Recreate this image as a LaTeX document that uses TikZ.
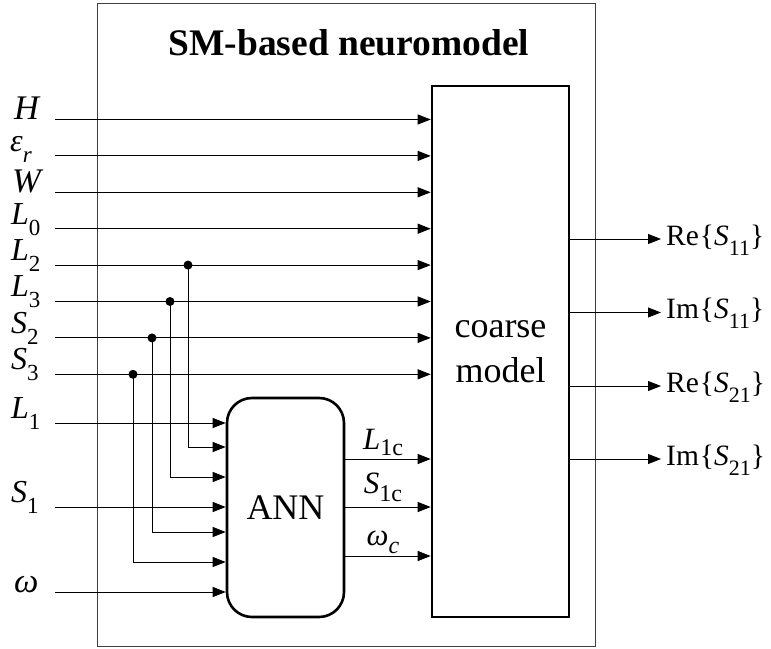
\documentclass[tikz,border=0pt]{standalone}
\usepackage{fontspec}
\setmainfont{Liberation Serif}
\usetikzlibrary{arrows.meta}

% lowered index: size, drop (pt), text
\newcommand{\subidx}[3]{\raisebox{-#2pt}{\fontsize{#1}{#1}\selectfont #3}}

\begin{document}
\begin{tikzpicture}[x=1pt,y=-1pt,
  wire/.style={line width=0.9pt},
  feed/.style={wire,-{Triangle[length=13pt,width=10pt]}},
  block/.style={draw,line width=2.6pt,inner sep=0pt},
  frame/.style={draw,line width=0.9pt,black!75,inner sep=0pt},
  junction/.style={circle,fill,inner sep=0pt,minimum size=9pt},
  inlabel/.style={anchor=base west,inner sep=0pt,font=\fontsize{32}{34}\selectfont},
  inplain/.style={anchor=base west,inner sep=0pt,font=\fontsize{34.5}{36}\selectfont},
  midlabel/.style={anchor=base,inner sep=0pt,font=\fontsize{31}{34}\selectfont},
  outlabel/.style={anchor=base west,inner sep=0pt,font=\fontsize{29.5}{32}\selectfont}]
\useasboundingbox (0,0) rectangle (771,648);

% enclosing frame and title
\node[frame,minimum width=498pt,minimum height=643pt] (frame) at (346,324.5) {};
\node[anchor=base,inner sep=0pt,font=\fontsize{37.5}{40}\selectfont\bfseries] (title) at (349,55) {SM-based neuromodel};

% blocks
\node[block,minimum width=137pt,minimum height=531pt,align=center,
      font=\fontsize{36}{45}\selectfont] (coarse) at (500.5,351.5) {coarse\\model};
\node[block,rounded corners=25pt,minimum width=117pt,minimum height=219pt,
      font=\fontsize{36}{40}\selectfont] (ann) at (285.5,507.5) {ANN};

% input line start points
\coordinate (sH)  at (55,119.5);
\coordinate (sEr) at (55,155.9);
\coordinate (sW)  at (55,192.3);
\coordinate (sL0) at (55,228.7);
\coordinate (sL2) at (55,265.1);
\coordinate (sL3) at (55,301.5);
\coordinate (sS2) at (55,337.9);
\coordinate (sS3) at (55,374.3);
\coordinate (sL1) at (55,423);
\coordinate (sS1) at (55,507);
\coordinate (sOm) at (55,592);

% input labels
\node[inplain] (tH)  at (14,119.5) {\textit{H}};
\node[inlabel] (tEr) at (10,151)   {\textit{ε}\subidx{23}{11}{\textit{r}}};
\node[inplain] (tW)  at (12,192.3) {\textit{W}};
\node[inlabel] (tL0) at (11,224)   {\textit{L}\subidx{23}{11}{0}};
\node[inlabel] (tL2) at (11,260.4) {\textit{L}\subidx{23}{11}{2}};
\node[inlabel] (tL3) at (11,296.8) {\textit{L}\subidx{23}{11}{3}};
\node[inlabel] (tS2) at (11,333.2) {\textit{S}\subidx{23}{11}{2}};
\node[inlabel] (tS3) at (11,369.6) {\textit{S}\subidx{23}{11}{3}};
\node[inlabel] (tL1) at (11,418.5) {\textit{L}\subidx{23}{11}{1}};
\node[inlabel] (tS1) at (11,502.5) {\textit{S}\subidx{23}{11}{1}};
\node[inplain] (tOm) at (14,592.5) {\textit{ω}};

% direct inputs of the coarse model
\foreach \s in {sH,sEr,sW,sL0,sL2,sL3,sS2,sS3}
  \draw[feed] (\s) -- (\s -| coarse.west);

% direct inputs of the ANN
\foreach \s in {sL1,sS1,sOm}
  \draw[feed] (\s) -- (\s -| ann.west);

% branch points feeding the ANN
\node[junction] (jL2) at (188,265.1) {};
\node[junction] (jL3) at (170,301.5) {};
\node[junction] (jS2) at (152,337.9) {};
\node[junction] (jS3) at (133,374.3) {};
\coordinate (yL2) at (0,447);
\coordinate (yL3) at (0,477);
\coordinate (yS2) at (0,532);
\coordinate (yS3) at (0,562);
\draw[feed] (jL2.center) |- (ann.west |- yL2);
\draw[feed] (jL3.center) |- (ann.west |- yL3);
\draw[feed] (jS2.center) |- (ann.west |- yS2);
\draw[feed] (jS3.center) |- (ann.west |- yS3);

% ANN outputs into the coarse model
\coordinate (oL) at (0,459);
\coordinate (oS) at (0,507);
\coordinate (oW) at (0,556);
\draw[feed] (ann.east |- oL) -- (coarse.west |- oL);
\draw[feed] (ann.east |- oS) -- (coarse.west |- oS);
\draw[feed] (ann.east |- oW) -- (coarse.west |- oW);
\node[midlabel] (tL1c) at (383,449) {\textit{L}\subidx{24}{6}{1c}};
\node[midlabel] (tS1c) at (383,493) {\textit{S}\subidx{24}{8}{1c}};
\node[midlabel] (tWc)  at (383,545) {\textit{ω}\subidx{24}{8}{\textit{c}}};

% coarse model responses
\coordinate (eR11) at (661,239);
\coordinate (eI11) at (661,312.5);
\coordinate (eR21) at (661,386);
\coordinate (eI21) at (661,459);
\foreach \e in {eR11,eI11,eR21,eI21}
  \draw[feed] (coarse.east |- \e) -- (\e);
\node[outlabel] (tR11) at (666,245) {Re\kern1pt\{\textit{S}\subidx{22}{10}{11}\}};
\node[outlabel] (tI11) at (666,318.5) {Im\kern1pt\{\textit{S}\subidx{22}{10}{11}\}};
\node[outlabel] (tR21) at (666,392) {Re\kern1pt\{\textit{S}\subidx{22}{10}{21}\}};
\node[outlabel] (tI21) at (666,465) {Im\kern1pt\{\textit{S}\subidx{22}{10}{21}\}};
\end{tikzpicture}
\end{document}
